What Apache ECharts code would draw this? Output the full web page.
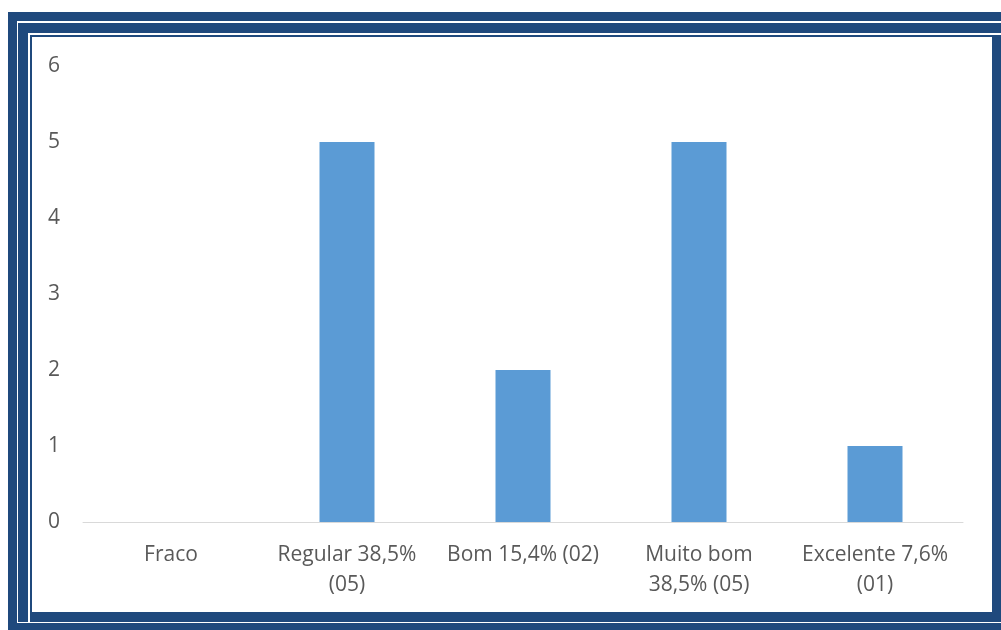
<!DOCTYPE html>
<html>
<head>
<meta charset="utf-8">
<script src="https://cdn.jsdelivr.net/npm/echarts@6/dist/echarts.min.js"></script>
<style>
  html, body { margin: 0; padding: 0; background: #ffffff; overflow: hidden; }
  .frame { position: absolute; }
  #chart { position: absolute; left: 0; top: 0; width: 1001px; height: 630px; z-index: 10; }
</style>
</head>
<body>
<!-- layered border around the chart area -->
<div class="frame" style="left:8px;top:12px;width:993px;height:618px;background:#1F497D"></div>
<div class="frame" style="left:17px;top:21px;width:984px;height:602px;background:#ffffff"></div>
<div class="frame" style="left:18px;top:23px;width:983px;height:599px;background:#1F497D"></div>
<div class="frame" style="left:28px;top:33px;width:973px;height:589px;background:#ffffff"></div>
<div class="frame" style="left:30px;top:35px;width:971px;height:587px;background:#1F497D"></div>
<div class="frame" style="left:32px;top:37px;width:960px;height:575px;background:#ffffff"></div>
<div id="chart"></div>
<script>
  // Ratings and number of answers per rating
  const categories = [
    'Fraco',
    'Regular 38,5%\n(05)',
    'Bom 15,4% (02)',
    'Muito bom\n38,5% (05)',
    'Excelente 7,6%\n(01)'
  ];
  const counts = [0, 5, 2, 5, 1];
  const yTicks = [0, 1, 2, 3, 4, 5, 6];

  const textColor = '#595959';
  const fontFamily = '"Open Sans", Lato, sans-serif';

  const chart = echarts.init(document.getElementById('chart'), null, { renderer: 'canvas' });
  chart.setOption({
    backgroundColor: 'transparent',
    animation: false,
    grid: { left: 83, right: 38, top: 66, bottom: 108, containLabel: false },
    xAxis: {
      type: 'category',
      data: categories,
      axisLine: { show: true, lineStyle: { color: '#D9D9D9', width: 1 } },
      axisTick: { show: false },
      axisLabel: {
        color: textColor,
        fontFamily: fontFamily,
        fontSize: 21,
        lineHeight: 30,
        margin: 18,
        interval: 0,
        align: 'center'
      }
    },
    yAxis: {
      type: 'value',
      min: yTicks[0],
      max: yTicks[yTicks.length - 1],
      interval: 1,
      axisLine: { show: false },
      axisTick: { show: false },
      splitLine: { show: false },
      axisLabel: {
        color: textColor,
        fontFamily: fontFamily,
        fontSize: 21,
        margin: 23
      }
    },
    series: [{
      type: 'bar',
      data: counts,
      barWidth: 55,
      itemStyle: { color: '#5B9BD5' }
    }]
  });
</script>
</body>
</html>
